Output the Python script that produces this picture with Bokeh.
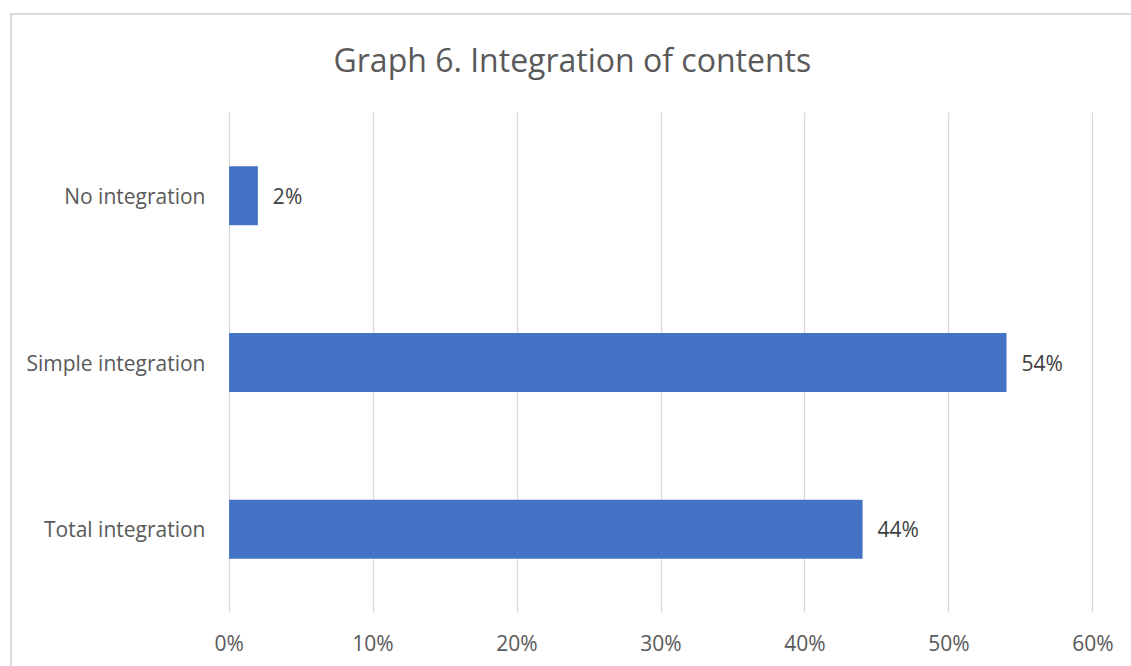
from bokeh.plotting import figure
from bokeh.models import ColumnDataSource, NumeralTickFormatter, FixedTicker, Range1d, FactorRange
from bokeh.embed import file_html
from bokeh.resources import INLINE

categories = ["Total integration", "Simple integration", "No integration"]
values = [0.44, 0.54, 0.02]
labels = ["44%", "54%", "2%"]
ticks = [0, 0.1, 0.2, 0.3, 0.4, 0.5, 0.6]

FONT = "Open Sans"
TXT = "#595959"

src = ColumnDataSource(dict(cat=categories, val=values, lab=labels))

p = figure(width=1131, height=666, y_range=FactorRange(*categories, range_padding=0),
           x_range=Range1d(-0.0004, 0.6004), output_backend="svg", toolbar_location=None,
           min_border_left=228, min_border_right=38, min_border_top=112, min_border_bottom=54,
           title="Graph 6. Integration of contents")
# chart-area border (top and left edges), drawn as CSS background behind a transparent canvas
p.border_fill_color = None
p.background_fill_color = None
p.styles = {"background": "linear-gradient(#d9d9d9, #d9d9d9) 10px 13px / 1200px 2px no-repeat, "
                          "linear-gradient(#d9d9d9, #d9d9d9) 10px 13px / 2px 700px no-repeat, #ffffff"}

p.hbar(y="cat", right="val", height=0.354, source=src, color="#4472C4", line_color=None)
p.text(x="val", y="cat", text="lab", source=src, x_offset=15, text_align="left",
       text_baseline="middle", text_color="#404040", text_font_size="21px",
       text_font={"value": FONT})

p.xaxis.ticker = FixedTicker(ticks=ticks)
p.xaxis.formatter = NumeralTickFormatter(format="0%")
for ax in (p.xaxis[0], p.yaxis[0]):
    ax.axis_line_color = None
    ax.major_tick_line_color = None
    ax.minor_tick_line_color = None
    ax.major_tick_out = 0
    ax.major_tick_in = 0
    ax.major_label_text_font = FONT
    ax.major_label_text_color = TXT
p.xaxis.major_label_text_font_size = "21px"
p.yaxis.major_label_text_font_size = "21px"
p.xaxis.major_label_standoff = 16
p.yaxis.major_label_standoff = 23
p.xgrid.ticker = FixedTicker(ticks=ticks)
p.xgrid.grid_line_color = "#d9d9d9"
p.xgrid.grid_line_width = 1.3
p.ygrid.grid_line_color = None
p.outline_line_color = None

p.title.align = "left"
p.title.offset = 105
p.title.text_font = FONT
p.title.text_font_size = "32px"
p.title.text_font_style = "normal"
p.title.text_color = TXT
p.title.standoff = 64

open("out.html", "w").write(file_html(p, INLINE))
